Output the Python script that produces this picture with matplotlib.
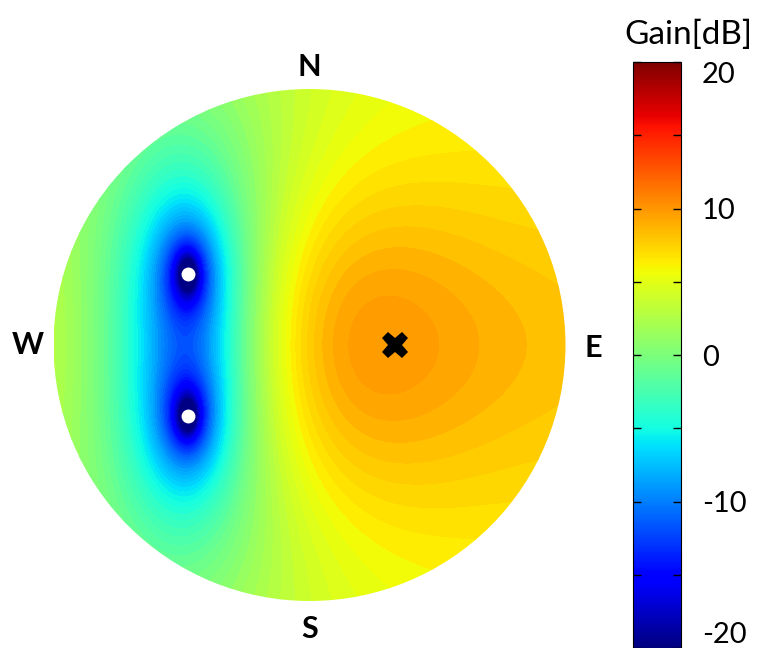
import numpy as np
import matplotlib
matplotlib.use('Agg')
import matplotlib.pyplot as plt
from matplotlib.patches import Circle
from matplotlib.colors import Normalize
from matplotlib.cm import ScalarMappable
from matplotlib.ticker import MultipleLocator

plt.rcParams['font.family'] = ['Lato', 'DejaVu Sans']

# positions on the map (unit disk, x = east, y = north)
null_x = [-0.475, -0.475]
null_y = [0.277, -0.277]
target_x = [0.334]
target_y = [0.0]

# gain model (dB)
floor_gain = 4.6        # far from the target
east_tilt = 1.35        # dB per radius towards E
lobe_gain = 7.74        # main lobe height above the floor
lobe_center = [-0.1, 0.0]
lobe_ew = 0.5
lobe_ns = 0.47
null_stretch = [1.9, 1.05]   # nulls are elongated north-south

cbar_ticks = [-20, -10, 0, 10, 20]
compass = ['N', 'S', 'W', 'E']

# field on a grid
n = 500
xs = np.linspace(-1, 1, n)
X, Y = np.meshgrid(xs, xs)
G = (floor_gain + east_tilt * X
     + lobe_gain * np.exp(-(Y - lobe_center[1]) ** 2 / lobe_ns)
     / (1 + (X - lobe_center[0]) ** 2 / lobe_ew))
for nx, ny in zip(null_x, null_y):
    e = (null_stretch[0] * (X - nx)) ** 2 + (null_stretch[1] * (Y - ny)) ** 2
    G = G + 10 * np.log10(1 - np.exp(-e) + 1e-12)
G = np.clip(G, -20, 20)

fig = plt.figure(figsize=(7.63, 6.48), dpi=100)
ax = fig.add_axes([53.5 / 763, 47 / 648, 512 / 763, 512 / 648])
ax.set_xlim(-1, 1)
ax.set_ylim(-1, 1)
ax.set_aspect('equal')
ax.axis('off')

cs = ax.contourf(X, Y, G, levels=np.arange(-20, 20.01, 0.5), cmap='jet',
                 vmin=-20, vmax=20)
disk = Circle((0, 0), 1, transform=ax.transData)
cs.set_clip_path(disk)

ax.plot(null_x, null_y, 'o', color='white', markersize=10, markeredgewidth=0)
ax.plot(target_x, target_y, 'X', color='black', markersize=19, markeredgewidth=0)

pos = {'N': (0, 1.085), 'S': (0, -1.11), 'W': (-1.10, 0), 'E': (1.107, -0.01)}
for c in compass:
    ax.text(pos[c][0], pos[c][1], c, ha='center', va='center', fontsize=22,
            fontweight='bold', clip_on=False)

cax = fig.add_axes([633 / 763, 0, 48 / 763, 586 / 648])
sm = ScalarMappable(norm=Normalize(-20, 20), cmap='jet')
cb = fig.colorbar(sm, cax=cax)
cb.set_ticks(cbar_ticks)
cax.yaxis.set_minor_locator(MultipleLocator(5))
cax.tick_params(which='both', direction='in', left=True, right=True,
                length=6, width=1, labelsize=21, pad=15)
cb.outline.set_linewidth(0.8)
labels = cax.set_yticklabels([str(t) for t in cbar_ticks])
labels[0].set_va('bottom')
labels[-1].set_va('top')
fig.text(688 / 763, 1 - 35 / 648, 'Gain[dB]', ha='center', va='center', fontsize=24)

plt.savefig('out.png', dpi=100)
